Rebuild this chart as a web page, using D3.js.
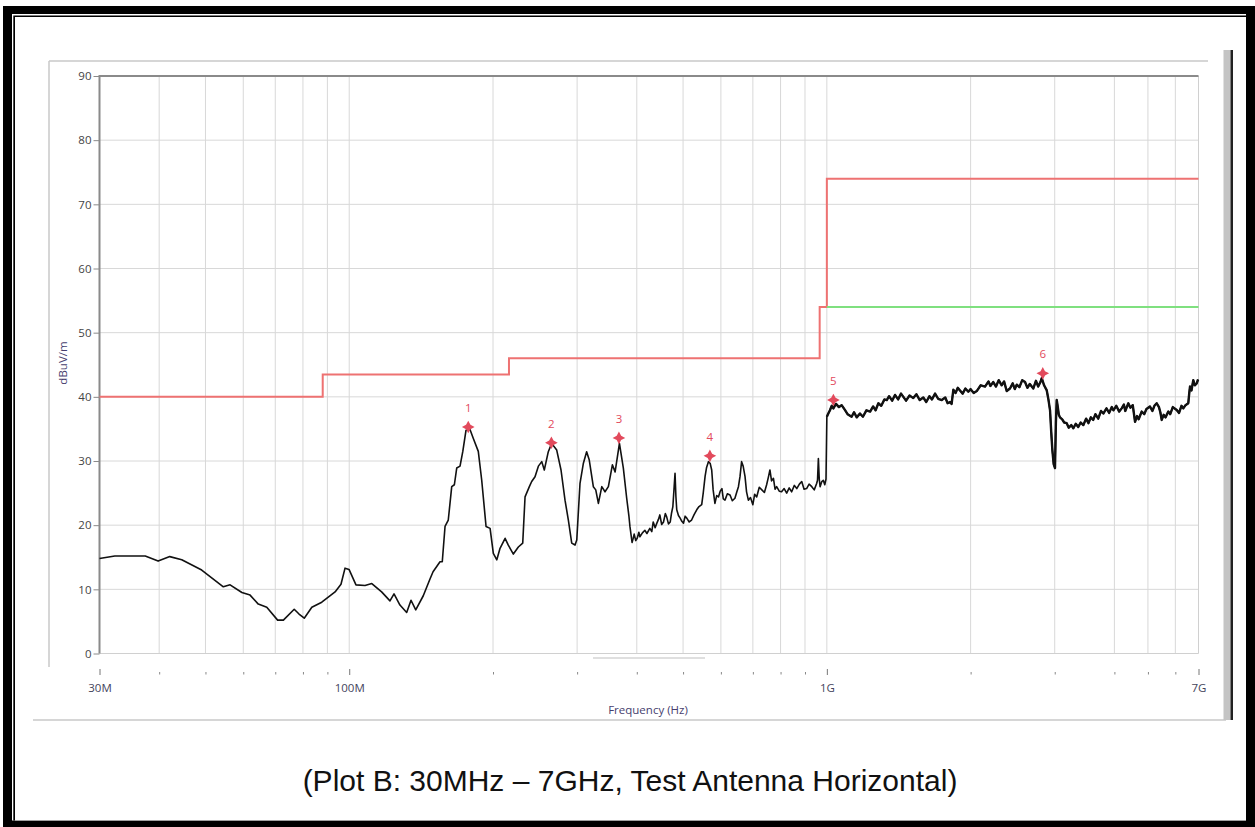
<!DOCTYPE html>
<html>
<head>
<meta charset="utf-8">
<script src="https://cdn.jsdelivr.net/npm/d3@7"></script>
<style>
  body { margin: 0; background: #fff; }
  svg { display: block; }
</style>
</head>
<body>
<svg id="chart" width="1255" height="827"></svg>
<script>
// Measured trace, [frequency MHz, level dBuV/m]
const traceLow = [
  [30, 14.8], [32.3, 15.2], [37.4, 15.2], [39.8, 14.4], [42.1, 15.1], [44.6, 14.6],
  [49.1, 13.0], [54.5, 10.4], [56.3, 10.7], [59.6, 9.5], [62.0, 9.1], [64.5, 7.7],
  [67.2, 7.2], [70.8, 5.2], [72.8, 5.2], [76.7, 6.9], [78.5, 6.15], [80.5, 5.5],
  [83.5, 7.2], [87.6, 8.0], [93.4, 9.6], [96.1, 10.8], [98.0, 13.3], [99.9, 13.1],
  [103.3, 10.7], [107.9, 10.6], [111.5, 10.9], [116.9, 9.6], [121.7, 8.2], [124.1, 9.3],
  [127.7, 7.55], [131.9, 6.4], [134.7, 8.3], [137.8, 6.8], [142.9, 9.0], [147.6, 11.6],
  [149.8, 12.75], [154.9, 14.3], [156.6, 14.3], [158.7, 19.8], [161.2, 20.8], [163.9, 26.0],
  [166.0, 26.3], [167.9, 28.9], [170.6, 29.2], [172.9, 31.5], [175.6, 34.8], [179.0, 34.9],
  [181.9, 33.5], [186.3, 31.5], [189.4, 27.0], [193.4, 19.8], [197.2, 19.5], [200.3, 15.6],
  [203.7, 14.6], [206.9, 16.4], [212.0, 17.95], [215.3, 16.9], [220.6, 15.5], [226.0, 16.6],
  [230.8, 17.2], [233.4, 24.4], [238.3, 26.0], [241.0, 26.8], [244.9, 27.55], [248.9, 29.2],
  [253.0, 29.9], [256.1, 28.6], [261.1, 31.45], [265.4, 32.75], [271.9, 31.7], [277.6, 28.6],
  [283.0, 23.9], [287.6, 20.8], [292.3, 17.2], [297.0, 16.9], [299.5, 17.7], [304.2, 26.5],
  [309.1, 29.6], [314.1, 31.45], [318.1, 30.15], [324.4, 26.0], [328.2, 25.5], [332.4, 23.4],
  [337.9, 26.0], [343.2, 25.2], [348.8, 26.0], [355.6, 29.4], [360.3, 28.3], [367.9, 32.75],
  [374.9, 28.9]
];
const traceMid = [
  [381, 24.2], [385, 21.5], [387, 19.8], [391, 17.3], [393, 17.9], [395, 18.6], [398, 17.6],
  [401, 18.0], [404, 18.9], [406, 18.2], [411, 18.8], [416, 19.2], [420, 18.7], [426, 19.5],
  [430, 19.0], [433, 20.5], [437, 19.6], [440, 20.2], [444, 20.9], [447, 21.6], [451, 20.1],
  [455, 20.5], [459, 21.8], [462, 21.3], [466, 20.2], [470, 20.5], [473, 21.9], [476, 22.9],
  [479, 26.0], [481, 28.1], [483, 24.5], [485, 22.4], [489, 21.5], [493, 21.1], [497, 20.6],
  [501, 20.3], [505, 21.4], [509, 21.1], [515, 20.5], [521, 20.8], [527, 21.6], [534, 22.4],
  [540, 22.9], [547, 23.2], [551, 25.0], [556, 27.6], [560, 29.0], [565, 29.9], [570, 29.6],
  [574, 28.6], [578, 25.5], [583, 23.4], [588, 24.6], [593, 24.4], [598, 25.3], [603, 25.7],
  [607, 24.1], [612, 23.9], [619, 24.9], [627, 24.7], [634, 23.8], [642, 24.2], [648, 25.2],
  [653, 26.0], [658, 27.6], [663, 29.9], [668, 29.2], [674, 27.6], [679, 25.2], [685, 23.9],
  [692, 24.3], [700, 23.2], [706, 24.8], [713, 24.4], [722, 25.9], [731, 25.5], [740, 25.1],
  [748, 26.3], [754, 27.4], [760, 28.6], [766, 26.9], [773, 27.3], [779, 25.6], [785, 26.0],
  [795, 25.3], [804, 25.2], [814, 25.7], [824, 25.0], [834, 25.8], [844, 25.2], [855, 26.2],
  [865, 25.7], [876, 26.4], [886, 26.8], [896, 25.6], [907, 25.7], [918, 26.4], [930, 26.0],
  [941, 25.5], [952, 26.5], [956, 27.0], [960, 30.4], [964, 27.2], [968, 26.0], [976, 26.8],
  [983, 27.0], [990, 26.3], [996, 27.2]
];
const traceHigh = [
  [1000, 36.9], [1007, 37.4], [1015, 37.9], [1024, 38.6], [1032, 38.2], [1045, 38.9], [1060, 38.4],
  [1074, 38.7], [1090, 38.0], [1105, 37.3], [1127, 36.9], [1140, 37.6], [1155, 36.8], [1173, 37.4],
  [1190, 36.9], [1210, 37.9], [1232, 37.7], [1250, 38.5], [1265, 37.9], [1282, 39.0], [1300, 38.6],
  [1320, 39.6], [1335, 39.5], [1350, 40.1], [1370, 39.4], [1389, 40.3], [1410, 39.6], [1430, 40.5],
  [1446, 40.0], [1465, 39.4], [1490, 40.2], [1517, 39.8], [1540, 40.4], [1565, 39.5], [1592, 39.9],
  [1615, 39.2], [1640, 40.1], [1660, 39.6], [1685, 40.5], [1710, 39.7], [1740, 39.5], [1770, 39.9],
  [1790, 39.0], [1811, 39.2], [1825, 38.9], [1840, 41.1], [1860, 40.6], [1880, 41.4], [1900, 41.0],
  [1925, 40.5], [1950, 41.3], [1978, 40.8], [2000, 41.2], [2030, 40.6], [2060, 40.9], [2100, 41.8],
  [2144, 41.6], [2180, 42.4], [2200, 41.7], [2231, 42.3], [2260, 41.6], [2290, 42.6], [2323, 41.8],
  [2350, 42.4], [2380, 40.9], [2418, 41.3], [2450, 42.1], [2475, 41.2], [2498, 41.9], [2530, 41.5],
  [2565, 42.6], [2600, 42.3], [2630, 41.4], [2660, 42.0], [2706, 41.3], [2740, 42.5], [2770, 41.6],
  [2800, 42.3], [2818, 42.9], [2850, 41.8], [2887, 41.0], [2910, 39.6], [2933, 37.9], [2950, 34.5],
  [2966, 31.7], [2985, 29.5], [3004, 28.9], [3017, 36.0], [3029, 39.5], [3045, 38.4], [3060, 37.2],
  [3077, 36.8], [3110, 36.5], [3140, 36.0], [3178, 35.9], [3210, 35.2], [3250, 35.6], [3282, 35.1],
  [3320, 35.8], [3360, 35.3], [3400, 36.0], [3444, 35.6], [3490, 36.6], [3530, 35.9], [3570, 36.8],
  [3612, 36.4], [3650, 37.3], [3700, 36.6], [3750, 37.8], [3792, 37.4], [3850, 38.2], [3900, 37.5],
  [3950, 38.4], [3981, 37.9], [4050, 38.6], [4130, 37.7], [4199, 38.2], [4260, 38.8], [4300, 37.8],
  [4388, 39.0], [4450, 38.3], [4520, 38.7], [4589, 36.1], [4650, 37.0], [4700, 36.5], [4796, 37.7],
  [4880, 37.3], [4950, 38.1], [5068, 38.5], [5150, 37.8], [5220, 38.6], [5300, 39.0], [5380, 38.4],
  [5430, 37.6], [5481, 36.4], [5550, 37.2], [5620, 36.8], [5725, 37.7], [5800, 37.3], [5900, 38.4],
  [6055, 37.95], [6150, 37.5], [6250, 38.6], [6327, 38.2], [6420, 38.7], [6540, 39.0], [6580, 40.5],
  [6615, 41.6], [6680, 41.0], [6761, 42.6], [6830, 41.8], [6917, 42.1], [6980, 42.7]
];

// Limit lines (step shapes)
const qpLimit = [[30, 40], [88, 40], [88, 43.5], [216, 43.5], [216, 46], [966, 46], [966, 54],
  [1000, 54], [1000, 74], [7000, 74]];
const avgLimit = [[1000, 54], [7000, 54]];

// Peak markers
const markerNum = [1, 2, 3, 4, 5, 6];
const markerFreq = [177.5, 265, 367, 569, 1032, 2832];
const markerLevel = [35.3, 32.85, 33.6, 30.8, 39.5, 43.66];

// Axis ticks
const yTicks = [0, 10, 20, 30, 40, 50, 60, 70, 80, 90];
const xMajor = [30, 100, 1000, 7000];
const xMajorLabels = ["30M", "100M", "1G", "7G"];
const xMinor = [40, 50, 60, 70, 80, 90, 200, 300, 400, 500, 600, 700, 800, 900,
  2000, 3000, 4000, 5000, 6000];

function drawChart() {
  const svg = d3.select("#chart");
  const pLeft = 99.5, pRight = 1198.5, pTop = 76, pBottom = 653.5;
  const labelFont = "'Open Sans', sans-serif";

  // the analyzer squeezes the last part of the axis above 4G
  const x = d3.scaleLog().domain([30, 4000, 7000]).range([pLeft, 1114.4, pRight]);
  const y = d3.scaleLinear().domain([0, 90]).range([pBottom, pTop]);

  // Outer document frame
  svg.append("rect").attr("x", 3).attr("y", 6).attr("width", 1252).attr("height", 821).attr("fill", "#000");
  svg.append("rect").attr("x", 12).attr("y", 14).attr("width", 1234).attr("height", 806.5).attr("fill", "#fff");
  svg.append("rect").attr("x", 13.3).attr("y", 15.5).attr("width", 1232.7).attr("height", 805).attr("fill", "#000");
  svg.append("rect").attr("x", 15).attr("y", 17).attr("width", 1231).attr("height", 803.5).attr("fill", "#fff");

  // Screenshot panel edges
  svg.append("line").attr("x1", 49).attr("x2", 1208).attr("y1", 61).attr("y2", 61)
    .attr("stroke", "#c8c8c8").attr("stroke-width", 1.5);
  svg.append("line").attr("x1", 49).attr("x2", 49).attr("y1", 61).attr("y2", 667)
    .attr("stroke", "#c8c8c8").attr("stroke-width", 1.5);
  svg.append("line").attr("x1", 33).attr("x2", 1226).attr("y1", 720).attr("y2", 720)
    .attr("stroke", "#c8c8c8").attr("stroke-width", 1.5);
  svg.append("rect").attr("x", 1223.5).attr("y", 50).attr("width", 7).attr("height", 670).attr("fill", "#c4c4c4");
  svg.append("rect").attr("x", 1230.5).attr("y", 50).attr("width", 2.5).attr("height", 670).attr("fill", "#222");

  // Grid
  const grid = svg.append("g");
  grid.selectAll(".vg").data(xMinor.concat([100, 1000])).enter().append("line")
    .attr("x1", d => x(d)).attr("x2", d => x(d)).attr("y1", pTop).attr("y2", pBottom)
    .attr("stroke", "#d8d8d8").attr("stroke-width", 1);
  grid.selectAll(".hg").data(yTicks.slice(1, -1)).enter().append("line")
    .attr("x1", pLeft).attr("x2", pRight).attr("y1", d => y(d)).attr("y2", d => y(d))
    .attr("stroke", "#d8d8d8").attr("stroke-width", 1);

  // Plot border
  svg.append("line").attr("x1", pLeft).attr("x2", pRight).attr("y1", pBottom).attr("y2", pBottom)
    .attr("stroke", "#d0d0d0");
  svg.append("line").attr("x1", pRight).attr("x2", pRight).attr("y1", pTop).attr("y2", pBottom)
    .attr("stroke", "#d0d0d0");
  svg.append("line").attr("x1", pLeft).attr("x2", pRight).attr("y1", pTop).attr("y2", pTop)
    .attr("stroke", "#8a8a8a").attr("stroke-width", 2);
  svg.append("line").attr("x1", pLeft).attr("x2", pLeft).attr("y1", pTop - 1).attr("y2", pBottom)
    .attr("stroke", "#8a8a8a").attr("stroke-width", 2);
  // little scrollbar remnant under the axis
  svg.append("line").attr("x1", 593).attr("x2", 705).attr("y1", 658).attr("y2", 658)
    .attr("stroke", "#d4d4d4").attr("stroke-width", 1.5);

  // Y axis
  const yAxis = svg.append("g").attr("transform", "translate(" + pLeft + ",0)")
    .call(d3.axisLeft(y).tickValues(yTicks).tickSize(6).tickPadding(2));
  yAxis.select(".domain").remove();
  yAxis.selectAll("line").attr("stroke", "#8a8a8a");
  yAxis.selectAll("text").attr("fill", "#444").style("font-family", labelFont).style("font-size", "11.5px");

  // X axis: tick marks sit below the plot
  const xAxis = svg.append("g").attr("transform", "translate(0,672)")
    .call(d3.axisBottom(x).tickValues(xMinor).tickSize(2.5).tickFormat(""));
  xAxis.select(".domain").remove();
  xAxis.selectAll("line").attr("stroke", "#888");

  const xMaj = svg.append("g").attr("transform", "translate(0,669)")
    .call(d3.axisBottom(x).tickValues(xMajor).tickSize(6).tickPadding(9)
      .tickFormat((d, i) => xMajorLabels[i]));
  xMaj.select(".domain").remove();
  xMaj.selectAll("line").attr("stroke", "#777");
  xMaj.selectAll("text").attr("fill", "#44445c").style("font-family", labelFont).style("font-size", "11.5px");

  // Axis titles
  svg.append("text")
    .attr("x", 648).attr("y", 714)
    .attr("text-anchor", "middle")
    .attr("fill", "#463e6e")
    .style("font-family", labelFont).style("font-size", "11.5px")
    .text("Frequency (Hz)");
  svg.append("text")
    .attr("transform", "translate(67,363) rotate(-90)")
    .attr("text-anchor", "middle")
    .attr("fill", "#463e6e")
    .style("font-family", labelFont).style("font-size", "11.5px")
    .text("dBuV/m");

  // Lines
  const line = d3.line().x(d => x(d[0])).y(d => y(d[1]));

  svg.append("path").datum(qpLimit).attr("d", line)
    .attr("fill", "none").attr("stroke", "#ee7272").attr("stroke-width", 2);
  svg.append("path").datum(avgLimit).attr("d", line)
    .attr("fill", "none").attr("stroke", "#7fe07f").attr("stroke-width", 2);

  const trace = traceLow.concat(traceMid, traceHigh);
  svg.append("path").datum(trace).attr("d", line)
    .attr("fill", "none").attr("stroke", "#111").attr("stroke-width", 1.6)
    .attr("stroke-linejoin", "round");
  // dense noise above 1G shows up as a heavier band
  svg.append("path").datum(traceHigh).attr("d", line)
    .attr("fill", "none").attr("stroke", "#111").attr("stroke-width", 2.4)
    .attr("stroke-linejoin", "round");

  // Markers: small four-point stars with numbers
  const star4 = {
    draw(ctx, size) {
      const r = Math.sqrt(size) / 2, q = r * 0.35;
      ctx.moveTo(0, -r);
      ctx.lineTo(q, -q);
      ctx.lineTo(r, 0);
      ctx.lineTo(q, q);
      ctx.lineTo(0, r);
      ctx.lineTo(-q, q);
      ctx.lineTo(-r, 0);
      ctx.lineTo(-q, -q);
      ctx.closePath();
    }
  };

  const mk = svg.append("g").selectAll("g").data(markerNum).enter().append("g")
    .attr("transform", (d, i) => "translate(" + x(markerFreq[i]) + "," + y(markerLevel[i]) + ")");
  mk.append("path").attr("d", d3.symbol().type(star4).size(160)).attr("fill", "#e24a5c");
  mk.append("text")
    .attr("y", -15)
    .attr("text-anchor", "middle")
    .attr("fill", "#e24a5c")
    .style("font-family", labelFont).style("font-size", "11.5px")
    .text(d => d);

  // Caption
  svg.append("text")
    .attr("x", 630).attr("y", 791)
    .attr("text-anchor", "middle")
    .attr("fill", "#111")
    .style("font-family", "'Liberation Sans', Arial, sans-serif").style("font-size", "30px")
    .text("(Plot B: 30MHz \u2013 7GHz, Test Antenna Horizontal)");
}

drawChart();
</script>
</body>
</html>
